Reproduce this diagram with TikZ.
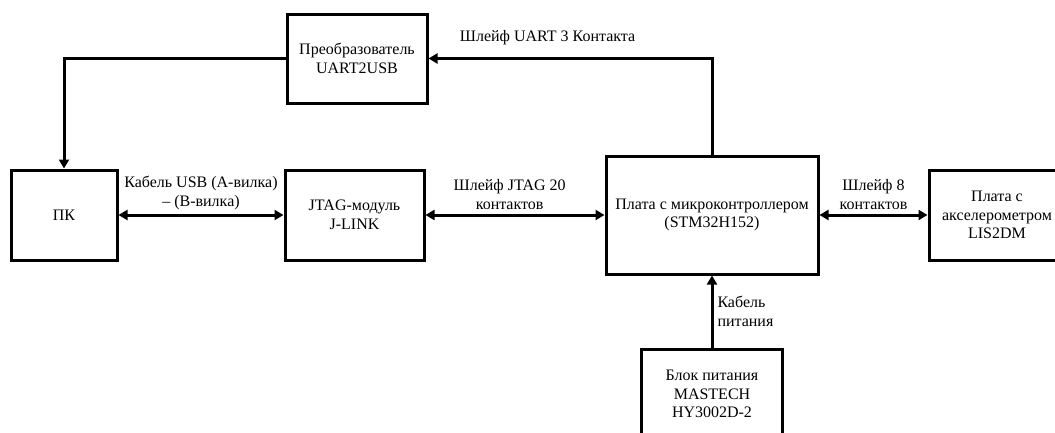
\documentclass[tikz,border=0pt]{standalone}
\usepackage{fontspec}
\setmainfont{Liberation Serif}
\usetikzlibrary{arrows.meta,positioning}

\begin{document}
\begin{tikzpicture}[x=1pt,y=-1pt,>={Triangle[length=9pt,width=10pt]},
  font=\fontsize{16}{18.5}\selectfont,
  blok/.style={draw,line width=3pt,align=center,inner sep=0pt},
  link/.style={line width=3pt},
  lbl/.style={align=center,inner sep=1pt}]
  \useasboundingbox (0,0) rectangle (1055,432);
  \node (pk) [blok,minimum width=106pt,minimum height=90pt] at (64,215) {ПК};
  \node (jtag) [blok,minimum width=139pt,minimum height=90pt,right=165pt of pk] {JTAG-модуль\\J-LINK};
  \node (mcu) [blok,minimum width=212pt,minimum height=118pt,right=179pt of jtag] {Плата с микроконтроллером\\(STM32H152)};
  \node (acc) [blok,minimum width=136pt,minimum height=90pt,right=108pt of mcu] {Плата с\\акселерометром\\LIS2DM};
  \node (conv) [blok,minimum width=140pt,minimum height=89pt] at (357,58.5) {Преобразователь\\UART2USB};
  \node (psu) [blok,minimum width=141pt,minimum height=90pt,below=72pt of mcu] {Блок питания\\MASTECH\\HY3002D-2};
  \draw[link,->] (mcu.north) |- (conv.east)
    node[lbl,above=11pt,pos=0.79] {Шлейф UART 3 Контакта};
  \draw[link,->] (conv.west) -| (pk.north);
  \draw[link,<->] (pk) -- node[lbl,above=3pt] {Кабель USB (А-вилка)\\– (В-вилка)} (jtag);
  \draw[link,<->] (jtag) -- node[lbl,above=3pt,pos=0.47] {Шлейф JTAG 20\\контактов} (mcu);
  \draw[link,<->] (mcu) -- node[lbl,above=3pt] {Шлейф 8\\контактов} (acc);
  \draw[link,->] (psu) -- node[lbl,right=3pt,align=left] {Кабель\\питания} (mcu);
\end{tikzpicture}
\end{document}
